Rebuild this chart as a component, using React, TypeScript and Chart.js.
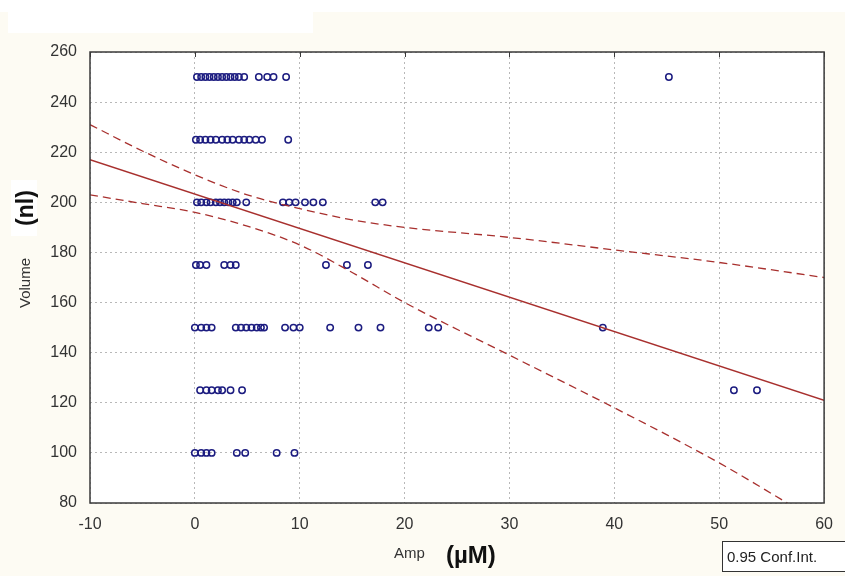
import React, { useEffect, useRef } from 'react';
import { Chart, registerables } from 'chart.js';

Chart.register(...registerables);

// ---- data ----
const xTickValues = [-10, 0, 10, 20, 30, 40, 50, 60];
const yTickValues = [80, 100, 120, 140, 160, 180, 200, 220, 240, 260];

const amp250 = [0.2, 0.6, 1.0, 1.4, 1.8, 2.2, 2.6, 3.0, 3.4, 3.8, 4.2, 4.7, 6.1, 6.9, 7.5, 8.7, 45.2];
const amp225 = [0.1, 0.5, 1.0, 1.5, 2.0, 2.6, 3.1, 3.6, 4.2, 4.7, 5.2, 5.8, 6.4, 8.9];
const amp200 = [0.2, 0.6, 1.1, 1.5, 2.0, 2.4, 2.8, 3.2, 3.6, 4.0, 4.9, 8.4, 9.0, 9.6, 10.5, 11.3, 12.2, 17.2, 17.9];
const amp175 = [0.1, 0.5, 1.1, 2.8, 3.4, 3.9, 12.5, 14.5, 16.5];
const amp150 = [0.0, 0.6, 1.1, 1.6, 3.9, 4.4, 4.9, 5.4, 5.9, 6.3, 6.6, 8.6, 9.4, 10.0, 12.9, 15.6, 17.7, 22.3, 23.2, 38.9];
const amp125 = [0.5, 1.1, 1.6, 2.2, 2.6, 3.4, 4.5, 51.4, 53.6];
const amp100 = [0.0, 0.6, 1.1, 1.6, 4.0, 4.8, 7.8, 9.5];

const fitAmp = [-10, 60];
const fitVolume = [217, 121];

const upperAmp = [-10, -5, 0, 5, 10, 15, 20, 30, 40, 50, 60];
const upperVolume = [231, 220.5, 211, 203, 197.5, 193, 190, 186, 181, 176, 170];
const lowerAmp = [-10, -5, 0, 5, 10, 15, 20, 30, 40, 50, 56.5];
const lowerVolume = [203, 199.5, 196, 190.5, 183, 172, 160, 139, 118, 96, 80];

const volumeLevels = [250, 225, 200, 175, 150, 125, 100];
const ampByLevel = [amp250, amp225, amp200, amp175, amp150, amp125, amp100];

const CREAM = '#fdfbf3';
const NAVY = '#1c1c80';
const RED = '#a8302e';
const FONT = '"Liberation Sans", Arial, sans-serif';

const decorPlugin = {
  id: 'decor',
  beforeDraw(chart: any) {
    const { ctx, chartArea: a, width, height } = chart;
    ctx.save();
    ctx.fillStyle = CREAM;
    ctx.fillRect(0, 0, width, height);
    ctx.fillStyle = '#ffffff';
    ctx.fillRect(0, 0, width, 12);
    ctx.fillRect(8, 0, 305, 33);
    ctx.fillRect(a.left, a.top, a.right - a.left, a.bottom - a.top);
    ctx.restore();
  },
  afterDraw(chart: any) {
    const { ctx, chartArea: a, scales } = chart;
    ctx.save();
    // frame
    ctx.strokeStyle = '#3a3a3a';
    ctx.lineWidth = 1.5;
    ctx.strokeRect(a.left, a.top, a.right - a.left, a.bottom - a.top);
    // inward ticks on top
    ctx.lineWidth = 1;
    ctx.beginPath();
    xTickValues.forEach((v) => {
      const px = Math.round(scales.x.getPixelForValue(v)) + 0.5;
      ctx.moveTo(px, a.top);
      ctx.lineTo(px, a.top + 5);
    });
    ctx.stroke();

    // x title
    ctx.fillStyle = '#333333';
    ctx.textBaseline = 'alphabetic';
    ctx.textAlign = 'left';
    ctx.font = `15px ${FONT}`;
    ctx.fillText('Amp', 394, 558);
    ctx.fillStyle = '#111111';
    ctx.font = `bold 24px ${FONT}`;
    ctx.fillText('(µM)', 446, 563);

    // y title
    ctx.save();
    ctx.translate(30, 283);
    ctx.rotate(-Math.PI / 2);
    ctx.textAlign = 'center';
    ctx.fillStyle = '#333333';
    ctx.font = `15px ${FONT}`;
    ctx.fillText('Volume', 0, 0);
    ctx.restore();

    ctx.fillStyle = '#ffffff';
    ctx.fillRect(11, 180, 26, 56);
    ctx.save();
    ctx.translate(33, 208);
    ctx.rotate(-Math.PI / 2);
    ctx.textAlign = 'center';
    ctx.fillStyle = '#111111';
    ctx.font = `bold 23px ${FONT}`;
    ctx.fillText('(nl)', 0, 0);
    ctx.restore();

    // legend box
    ctx.fillStyle = '#ffffff';
    ctx.fillRect(722, 541, 130, 30);
    ctx.strokeStyle = '#333333';
    ctx.lineWidth = 1;
    ctx.strokeRect(722.5, 541.5, 130, 30);
    ctx.fillStyle = '#222222';
    ctx.font = `15px ${FONT}`;
    ctx.textAlign = 'left';
    ctx.fillText('0.95 Conf.Int.', 727, 562);
    ctx.restore();
  },
};

export default function App() {
  const canvasRef = useRef<HTMLCanvasElement | null>(null);

  useEffect(() => {
    document.body.style.margin = '0';
    const canvas = canvasRef.current;
    if (!canvas) return;

    const points: { x: number; y: number }[] = [];
    volumeLevels.forEach((lvl, i) => {
      ampByLevel[i].forEach((a) => points.push({ x: a, y: lvl }));
    });

    const chart = new Chart(canvas, {
      type: 'scatter',
      data: {
        datasets: [
          {
            label: 'fit',
            data: fitAmp.map((x, i) => ({ x, y: fitVolume[i] })),
            showLine: true,
            borderColor: RED,
            borderWidth: 1.5,
            pointRadius: 0,
          },
          {
            label: 'upper',
            data: upperAmp.map((x, i) => ({ x, y: upperVolume[i] })),
            showLine: true,
            borderColor: RED,
            borderWidth: 1.3,
            borderDash: [8, 5],
            pointRadius: 0,
            cubicInterpolationMode: 'monotone',
          },
          {
            label: 'lower',
            data: lowerAmp.map((x, i) => ({ x, y: lowerVolume[i] })),
            showLine: true,
            borderColor: RED,
            borderWidth: 1.3,
            borderDash: [8, 5],
            pointRadius: 0,
            cubicInterpolationMode: 'monotone',
          },
          {
            label: 'Volume',
            data: points,
            showLine: false,
            pointRadius: 3.2,
            pointBorderWidth: 1.5,
            pointBorderColor: NAVY,
            pointBackgroundColor: 'rgba(255,255,255,0)',
          },
        ],
      } as any,
      options: {
        animation: false,
        responsive: false,
        devicePixelRatio: 1,
        layout: { padding: { top: 52, right: 14, left: 0, bottom: 0 } },
        plugins: { legend: { display: false }, tooltip: { enabled: false } },
        scales: {
          x: {
            type: 'linear',
            min: -10,
            max: 60,
            afterFit: (s: any) => {
              s.height = 73;
            },
            afterBuildTicks: (s: any) => {
              s.ticks = xTickValues.map((v) => ({ value: v }));
            },
            grid: { color: '#b8b8b8', lineWidth: 1, drawTicks: false },
            border: { display: false, dash: [2, 3] },
            ticks: {
              padding: 12,
              color: '#333333',
              font: { family: FONT, size: 16 },
            },
          },
          y: {
            type: 'linear',
            min: 80,
            max: 260,
            afterFit: (s: any) => {
              s.width = 90;
            },
            afterBuildTicks: (s: any) => {
              s.ticks = yTickValues.map((v) => ({ value: v }));
            },
            grid: { color: '#b8b8b8', lineWidth: 1, drawTicks: false },
            border: { display: false, dash: [2, 3] },
            ticks: {
              padding: 13,
              color: '#333333',
              font: { family: FONT, size: 16 },
            },
          },
        },
      },
      plugins: [decorPlugin],
    } as any);

    return () => chart.destroy();
  }, []);

  return (
    <div style={{ width: 845, height: 576 }}>
      <canvas ref={canvasRef} width={845} height={576} style={{ display: 'block' }} />
    </div>
  );
}
